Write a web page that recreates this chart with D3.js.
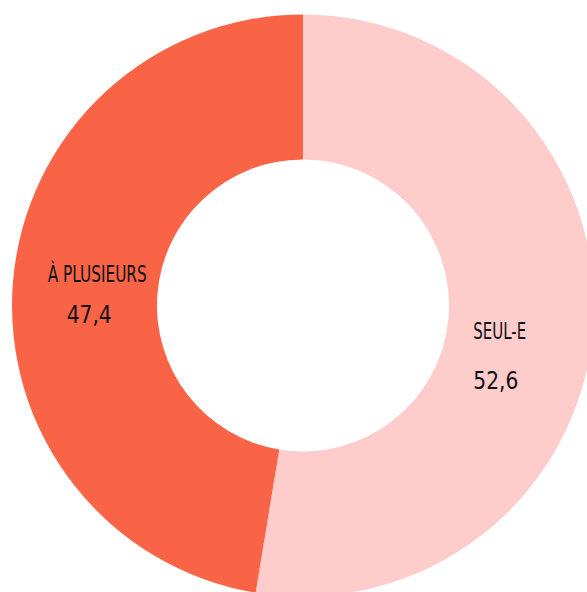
<!DOCTYPE html>
<html>
<head>
<meta charset="utf-8">
<style>
    body { margin: 0; background: #fff; }
    text { font-family: "Liberation Sans Narrow", "DejaVu Sans Condensed", sans-serif; fill: #111; }
</style>
</head>
<body>
<script src="https://cdn.jsdelivr.net/npm/d3@7"></script>
<div id="my_dataviz"></div>
<script>
    // data
    var categories = ["SEUL-E", "À PLUSIEURS"];
    var values = [52.6, 47.4];
    var valueLabels = ["52,6", "47,4"];
    var colors = ["#ffcccc", "#fa6446"];

    var width = 587, height = 592;
    var cx = 303, cy = 305.5;
    var outerR = 291, innerR = 146;

    var svg = d3.select("#my_dataviz")
        .append("svg")
        .attr("width", width)
        .attr("height", height)
        .append("g")
        .attr("transform", "translate(" + cx + "," + cy + ")");

    var data = categories.map(function (c, i) {
        return { name: c, value: values[i], label: valueLabels[i], color: colors[i] };
    });

    var pie = d3.pie()
        .sort(null)
        .value(function (d) { return d.value; });

    var arc = d3.arc()
        .innerRadius(innerR)
        .outerRadius(outerR);

    var labelArc = d3.arc()
        .innerRadius(218)
        .outerRadius(218);

    var arcs = pie(data);

    svg.selectAll("path.slice")
        .data(arcs)
        .enter()
        .append("path")
        .attr("class", "slice")
        .attr("fill", function (d) { return d.data.color; })
        .attr("d", arc);

    // label tweaks relative to the centroid
    var offsets = [
        { dx: -47, dy: 16, nx: -47, ny: 66, nameW: 53, anchor: "start" },
        { dx: -38, dy: -6, nx: -19, ny: 35, nameW: 99, anchor: "start" }
    ];

    var labels = svg.selectAll("g.lbl")
        .data(arcs)
        .enter()
        .append("g")
        .attr("class", "lbl")
        .attr("transform", function (d) {
            var c = labelArc.centroid(d);
            return "translate(" + c[0] + "," + c[1] + ")";
        });

    labels.append("text")
        .attr("x", function (d, i) { return offsets[i].dx; })
        .attr("y", function (d, i) { return offsets[i].dy; })
        .attr("font-size", 23)
        .attr("textLength", function (d, i) { return offsets[i].nameW; })
        .attr("lengthAdjust", "spacingAndGlyphs")
        .text(function (d) { return d.data.name; });

    labels.append("text")
        .attr("x", function (d, i) { return offsets[i].nx; })
        .attr("y", function (d, i) { return offsets[i].ny; })
        .attr("font-size", 25)
        .attr("font-weight", 500)
        .attr("textLength", 45)
        .attr("lengthAdjust", "spacingAndGlyphs")
        .text(function (d) { return d.data.label; });
</script>
</body>
</html>
